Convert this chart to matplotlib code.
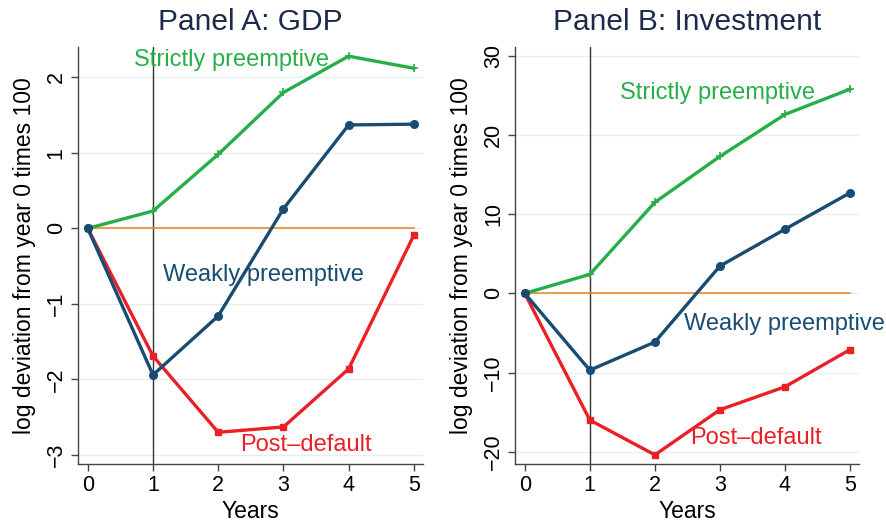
import matplotlib; matplotlib.use("Agg")
import matplotlib.pyplot as plt

plt.rcParams["font.family"] = ["Liberation Sans", "DejaVu Sans"]

years = [0, 1, 2, 3, 4, 5]

gdp_strict = [0, 0.23, 0.98, 1.80, 2.28, 2.12]
gdp_weak = [0, -1.94, -1.16, 0.26, 1.37, 1.38]
gdp_post = [0, -1.69, -2.70, -2.63, -1.86, -0.09]

inv_strict = [0, 2.4, 11.5, 17.3, 22.6, 25.8]
inv_weak = [0, -9.7, -6.15, 3.45, 8.1, 12.7]
inv_post = [0, -16.0, -20.4, -14.7, -11.8, -7.1]

GREEN = "#27ae49"
BLUE = "#184c72"
RED = "#ea2027"
ORANGE = "#ee8a2c"
TITLE = "#1c2b4c"

fig = plt.figure(figsize=(8.87, 5.25), dpi=100)
axA = fig.add_axes([0.0879, 0.1162, 0.389, 0.794])
axB = fig.add_axes([0.5806, 0.1162, 0.388, 0.794])

panels = [
    (axA, "Panel A: GDP", gdp_strict, gdp_weak, gdp_post, [-3, -2, -1, 0, 1, 2], (-3.12, 2.40),
     [(2.21, 2.23), (2.70, -0.62), (3.34, -2.87)]),
    (axB, "Panel B: Investment", inv_strict, inv_weak, inv_post, [-20, -10, 0, 10, 20, 30], (-21.55, 31.1),
     [(2.97, 25.3), (3.99, -3.83), (3.55, -18.3)]),
]

for ax, title, s, w, p, yt, ylim, lab in panels:
    for v in yt:
        ax.axhline(v, color="#e4efef", lw=0.9, zorder=0)
    ax.axvline(1, color="#333333", lw=1.0, zorder=1)
    ax.plot([0, 5], [0, 0], color=ORANGE, lw=1.2, zorder=2)
    ax.plot(years, s, color=GREEN, lw=2.4, marker="+", ms=6, mew=1.2, zorder=3)
    ax.plot(years, p, color=RED, lw=2.4, marker="s", ms=4, zorder=3)
    ax.plot(years, w, color=BLUE, lw=2.4, marker="o", ms=5.5, zorder=4)
    ax.text(*lab[0], "Strictly preemptive", color=GREEN, fontsize=17, ha="center", va="center")
    ax.text(*lab[1], "Weakly preemptive", color=BLUE, fontsize=17, ha="center", va="center")
    ax.text(*lab[2], "Post\u2013default", color=RED, fontsize=17, ha="center", va="center")
    ax.set_xlim(-0.15, 5.14)
    ax.set_ylim(*ylim)
    ax.set_xticks(years)
    ax.set_yticks(yt)
    ax.set_yticklabels([str(v).replace("-", "\u2212") for v in yt], rotation=90, va="center")
    ax.tick_params(labelsize=15.5, length=5, width=1, color="#444444", pad=3)
    for side in ("top", "right"):
        ax.spines[side].set_visible(False)
    for side in ("left", "bottom"):
        ax.spines[side].set_color("#444444")
        ax.spines[side].set_linewidth(1.0)
    ax.set_xlabel("Years", fontsize=16.5, labelpad=3)
    ax.set_ylabel("log deviation from year 0 times 100", fontsize=16.5, labelpad=7)
    ax.set_title(title, fontsize=21.5, color=TITLE, pad=12)

fig.savefig("out.png", dpi=100)
